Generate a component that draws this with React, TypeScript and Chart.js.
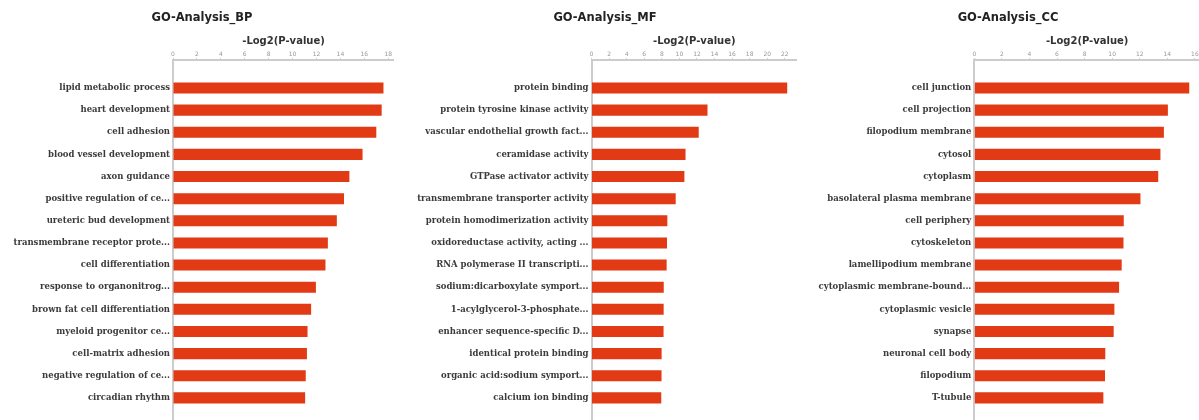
import React, { useEffect, useRef } from "react";
import { Chart, registerables } from "chart.js";
Chart.register(...registerables);

const bpTitle = "GO-Analysis_BP";
const bpLabels = [
  "lipid metabolic process",
  "heart development",
  "cell adhesion",
  "blood vessel development",
  "axon guidance",
  "positive regulation of ce...",
  "ureteric bud development",
  "transmembrane receptor prote...",
  "cell differentiation",
  "response to organonitrog...",
  "brown fat cell differentiation",
  "myeloid progenitor ce...",
  "cell-matrix adhesion",
  "negative regulation of ce...",
  "circadian rhythm",
];
const bpValues = [17.6, 17.45, 17.0, 15.85, 14.75, 14.3, 13.7, 12.95, 12.75, 11.95, 11.55, 11.25, 11.2, 11.1, 11.05];

const mfTitle = "GO-Analysis_MF";
const mfLabels = [
  "protein binding",
  "protein tyrosine kinase activity",
  "vascular endothelial growth fact...",
  "ceramidase activity",
  "GTPase activator activity",
  "transmembrane transporter activity",
  "protein homodimerization activity",
  "oxidoreductase activity, acting ...",
  "RNA polymerase II transcripti...",
  "sodium:dicarboxylate symport...",
  "1-acylglycerol-3-phosphate...",
  "enhancer sequence-specific D...",
  "identical protein binding",
  "organic acid:sodium symport...",
  "calcium ion binding",
];
const mfValues = [22.27, 13.2, 12.2, 10.7, 10.57, 9.58, 8.63, 8.59, 8.55, 8.22, 8.21, 8.2, 7.98, 7.97, 7.94];

const ccTitle = "GO-Analysis_CC";
const ccLabels = [
  "cell junction",
  "cell projection",
  "filopodium membrane",
  "cytosol",
  "cytoplasm",
  "basolateral plasma membrane",
  "cell periphery",
  "cytoskeleton",
  "lamellipodium membrane",
  "cytoplasmic membrane-bound...",
  "cytoplasmic vesicle",
  "synapse",
  "neuronal cell body",
  "filopodium",
  "T-tubule",
];
const ccValues = [15.59, 14.04, 13.75, 13.5, 13.34, 12.05, 10.84, 10.82, 10.69, 10.5, 10.16, 10.11, 9.5, 9.48, 9.36];

const axisTitle = "-Log2(P-value)";
const BAR = "#E23A14";

type PanelProps = { title: string; labels: string[]; values: number[]; left: number; plotLeft: number };

const PANEL_W = 384;

function Panel({ title, labels, values, left, plotLeft }: PanelProps) {
  const ref = useRef<HTMLCanvasElement>(null);
  useEffect(() => {
    if (!ref.current) return;
    const maxV = Math.max(...values) * 1.05;
    const chart = new Chart(ref.current, {
      type: "bar",
      data: {
        datasets: [
          {
            data: values.map((v, i) => ({ x: v, y: i })),
            backgroundColor: BAR,
            borderWidth: 0,
            categoryPercentage: 1,
            barPercentage: 0.5,
          } as any,
        ],
      },
      options: {
        indexAxis: "y",
        animation: false,
        responsive: false,
        events: [],
        layout: { padding: 0 },
        plugins: {
          legend: { display: false },
          tooltip: { enabled: false },
          title: {
            display: true,
            text: title,
            color: "#222",
            font: { family: "DejaVu Sans", weight: "bold", size: 11.5 },
            padding: { top: 11, bottom: 0 },
          },
        },
        scales: {
          x: {
            type: "linear",
            position: "top",
            min: 0,
            max: maxV,
            bounds: "data",
            offset: false,
            afterFit: (s: any) => {
              s.height = 60 - (11 + 11.5 * 1.2);
            },
            ticks: {
              stepSize: 2,
              includeBounds: false,
              color: "#999",
              font: { family: "DejaVu Sans", size: 6 },
              padding: 0,
              maxRotation: 0,
            },
            grid: { drawOnChartArea: false, drawTicks: true, tickLength: 2, color: "#ccc", offset: false },
            border: { display: true, color: "#ccc", width: 2 },
            title: {
              display: true,
              text: axisTitle,
              color: "#333",
              font: { family: "DejaVu Sans", weight: "bold", size: 10 },
              padding: { top: 10.5, bottom: 0 },
            },
          },
          y: {
            type: "linear",
            reverse: true,
            min: -1.265,
            max: 15.0,
            bounds: "data",
            offset: false,
            afterBuildTicks: (s: any) => {
              s.ticks = labels.map((_, i) => ({ value: i }));
            },
            afterFit: (s: any) => {
              s.width = plotLeft;
              s.paddingTop = 0;
              s.paddingBottom = 0;
            },
            ticks: {
              color: "#3a3a3a",
              font: { family: "DejaVu Serif", weight: "bold", size: 8.5 },
              padding: 3,
              autoSkip: false,
              callback: (v: any) => labels[v as number] ?? "",
            },
            grid: { display: false, drawTicks: false, offset: false },
            border: { display: true, color: "#ccc", width: 2 },
          },
        },
      } as any,
    });
    return () => chart.destroy();
  }, []);
  return (
    <canvas
      ref={ref}
      width={PANEL_W}
      height={420}
      style={{ position: "absolute", left, top: 0, width: PANEL_W, height: 420 }}
    />
  );
}

export default function App() {
  return (
    <div
      style={{
        position: "fixed",
        left: 0,
        top: 0,
        width: 1199,
        height: 420,
        overflow: "hidden",
        background: "#fff",
      }}
    >
      <Panel title={bpTitle} labels={bpLabels} values={bpValues} left={10} plotLeft={163} />
      <Panel title={mfTitle} labels={mfLabels} values={mfValues} left={413} plotLeft={178.5} />
      <Panel title={ccTitle} labels={ccLabels} values={ccValues} left={816} plotLeft={158.3} />
    </div>
  );
}
